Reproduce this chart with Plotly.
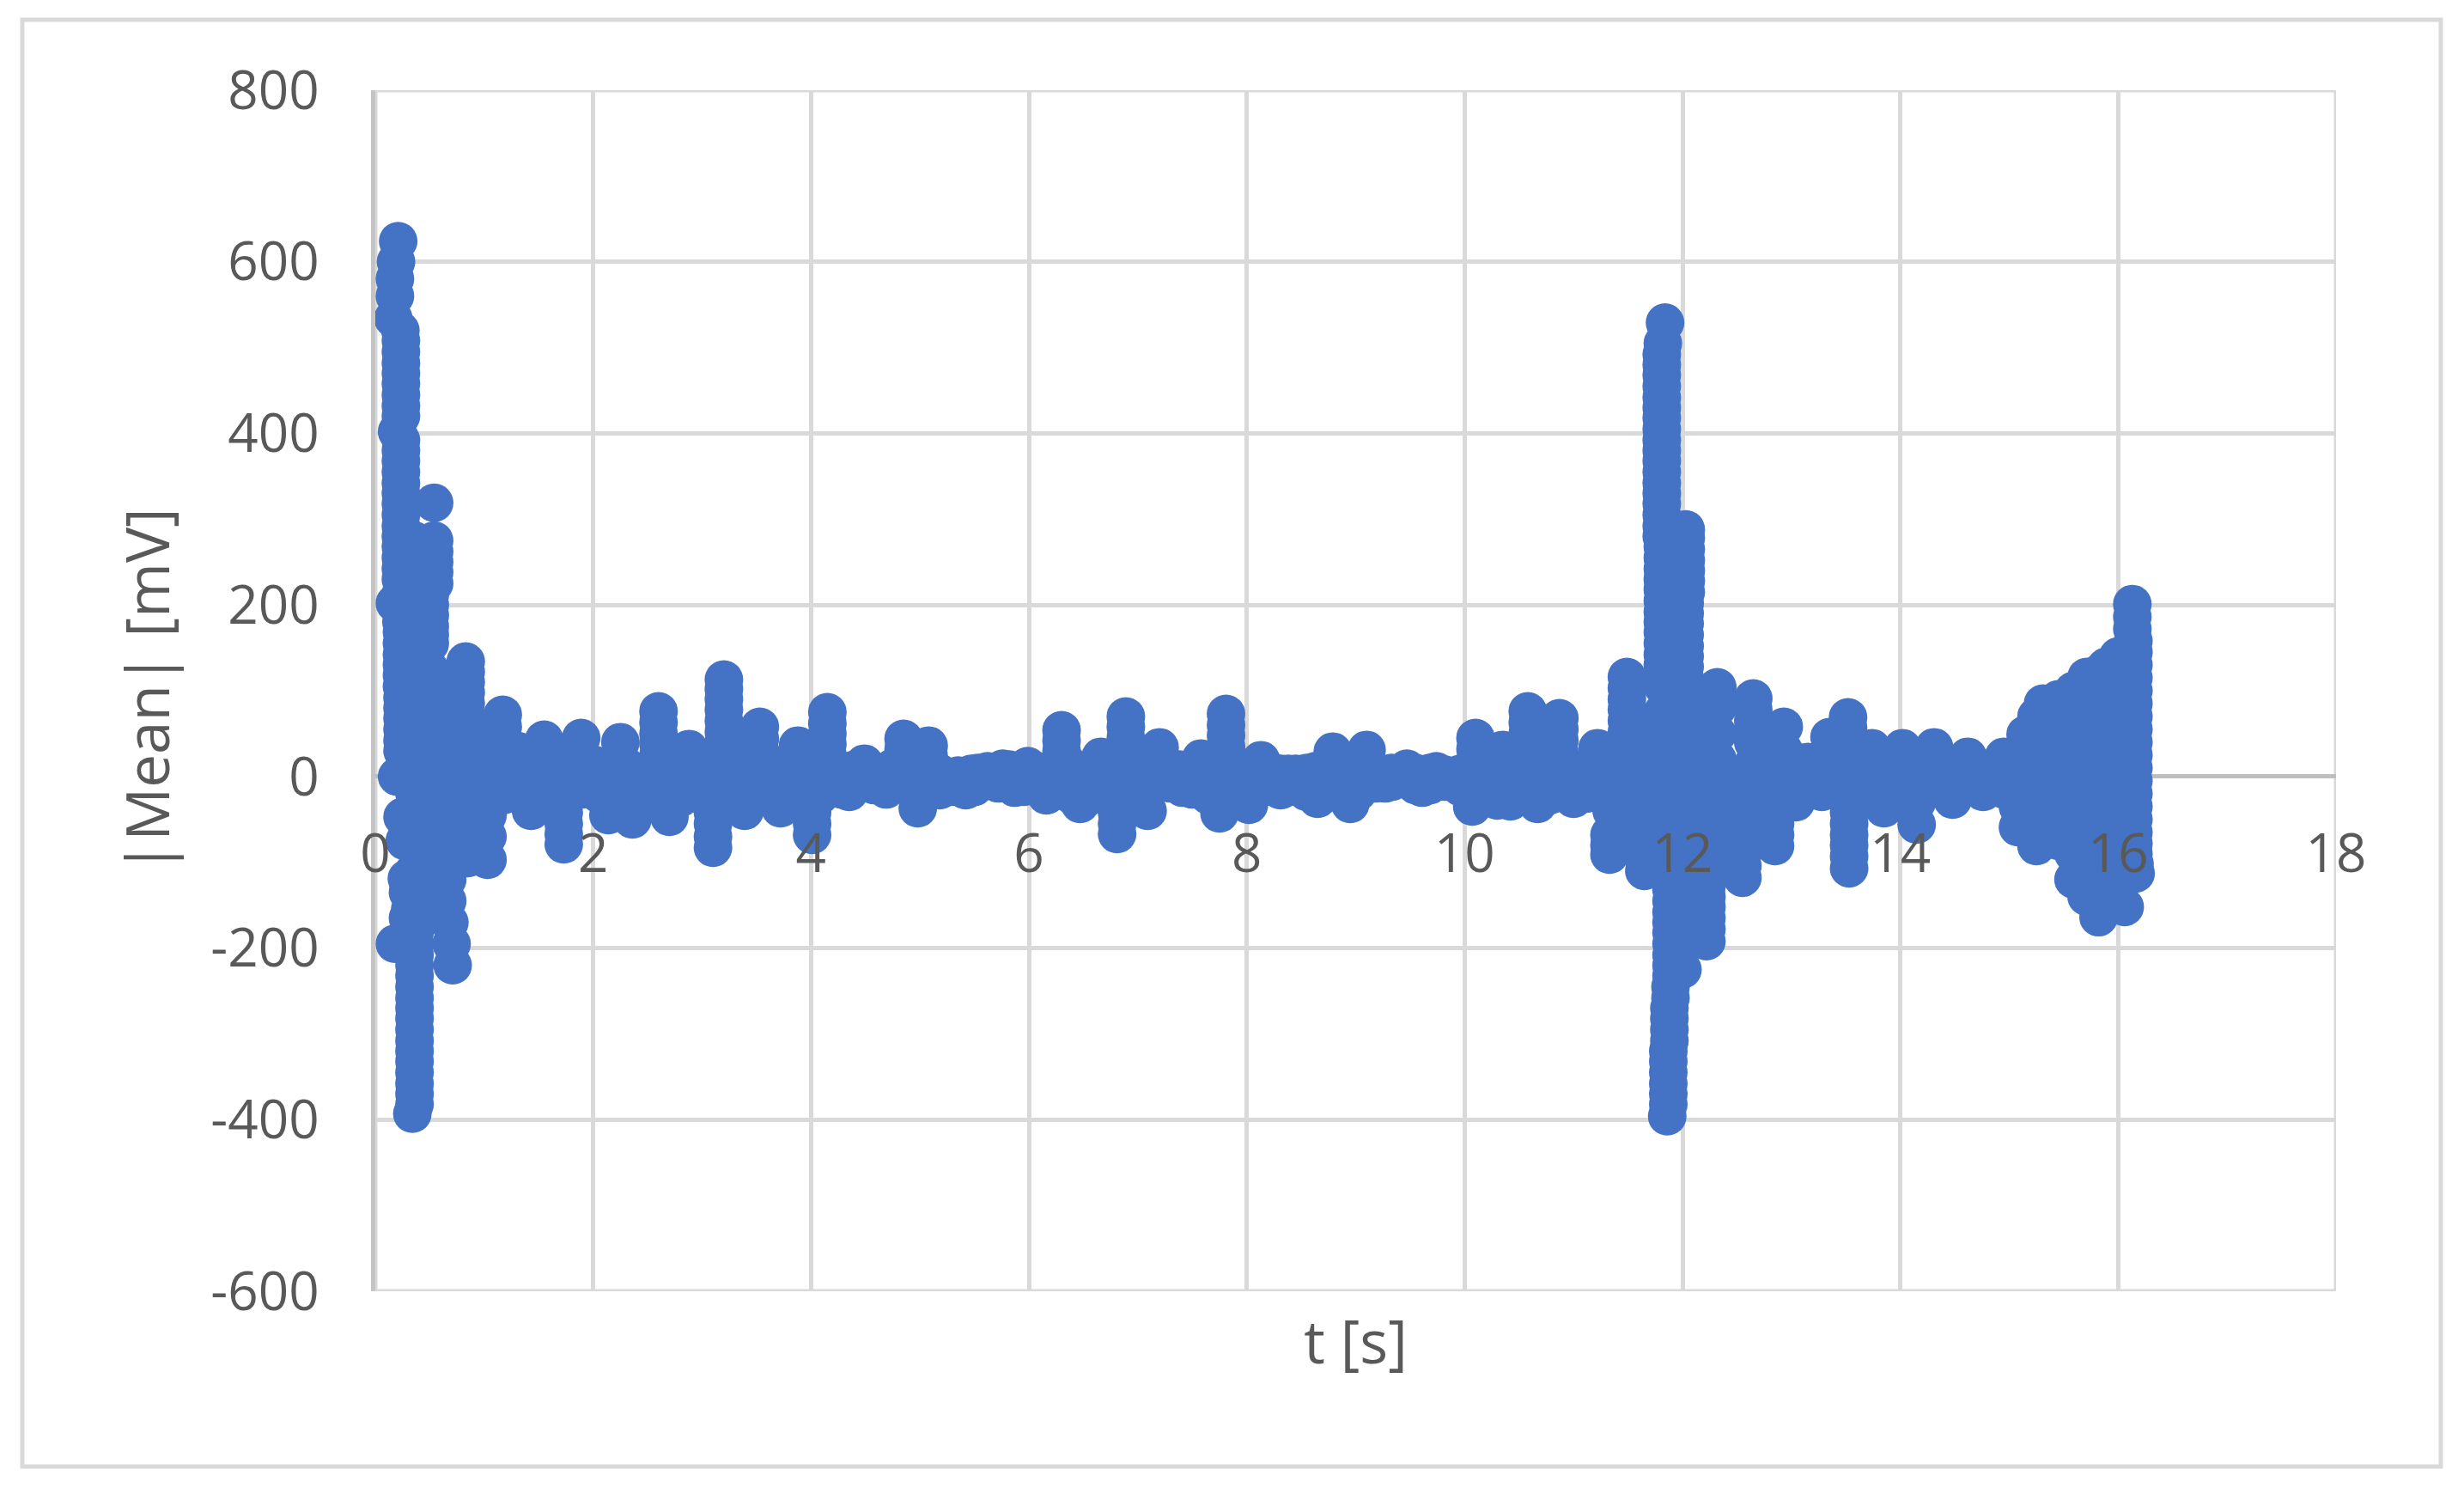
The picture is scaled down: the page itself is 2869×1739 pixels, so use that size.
import plotly.graph_objects as go

# (t [s], mean [mV]) pairs, one group per burst
onset = [
 (0.21,624),(0.19,600),(0.18,580),(0.18,560),(0.165,534),(0.23,520),(0.235,495),(0.235,470),(0.235,445),(0.235,420),
 (0.2,402),(0.235,380),(0.235,355),(0.235,330),(0.235,305),(0.235,280),(0.235,255),(0.235,230),(0.18,202),(0.24,180),
 (0.245,155),(0.245,130),(0.245,105),(0.25,80),(0.25,55),(0.25,30),(0.2,0),(0.25,-47),(0.27,-75),(0.29,-119),(0.32,-155),(0.18,-195),
 (0.34,-393),(0.36,-370),(0.36,-345),(0.36,-320),(0.36,-295),(0.36,-270),(0.36,-245),(0.36,-220),(0.36,-195),(0.36,-170),(0.36,-140),(0.36,-110),(0.36,-80),(0.36,-50),(0.36,-20),(0.36,10),
 (0.36,40),(0.36,70),(0.36,100),(0.36,130),(0.36,160),(0.36,190),(0.36,220),(0.36,250),(0.36,275),
 (0.54,319),(0.54,275),(0.54,250),(0.54,225),(0.5,200),(0.5,175),(0.5,155),(0.5,125),(0.5,95),(0.5,65),(0.5,35),(0.5,5),(0.5,-25),(0.5,-55),(0.5,-85),(0.5,-115),(0.5,-145),
 (0.67,110),(0.67,80),(0.67,50),(0.67,20),(0.67,-10),(0.67,-40),(0.67,-70),(0.67,-100),(0.66,-120),(0.66,-145),(0.68,-170),(0.7,-195),(0.71,-220),
 (0.83,134),(0.83,110),(0.83,85),(0.83,60),(0.83,35),(0.83,10),(0.83,-20),(0.83,-50),(0.83,-75),(0.85,-95),
 (1.03,-97),(1.03,-70),(1.03,-45),(1.03,-20),(1.0,0),(1.0,30),
 (1.17,72),(1.17,45),(1.17,20),(1.17,-5),(1.17,-22),
 (1.3,30),(1.3,0),(1.3,-20),(1.43,10),(1.43,-15),(1.43,-40),
 (1.55,43),(1.55,15),(1.55,-10),(1.73,-79),(1.73,-55),(1.73,-30),(1.73,-5),(1.73,20),(1.89,45),(1.89,15),(1.89,-15),
 (2.05,10),(2.05,-20),(2.14,-45),(2.14,-20),(2.25,40),(2.25,15),(2.25,-10),(2.36,-50),(2.36,-25),(2.36,0),
 (2.6,76),(2.6,50),(2.6,25),(2.6,0),(2.5,-15),(2.7,-47),(2.7,-22),(2.88,32),(2.88,10),(2.88,-15),
]
onset_fill = [
 (0.235,508),(0.235,482),(0.235,458),(0.235,432),(0.235,392),(0.235,368),(0.235,342),(0.235,318),(0.235,292),(0.235,268),(0.235,242),(0.24,215),(0.24,195),
 (0.245,168),(0.245,142),(0.245,118),(0.25,92),(0.25,68),(0.25,42),(0.3,-135),(0.3,-165),
 (0.36,-382),(0.36,-358),(0.36,-332),(0.36,-308),(0.36,-282),(0.36,-258),(0.36,-232),(0.36,-208),(0.36,-182),
 (0.54,262),(0.54,238),(0.5,212),(0.5,188),(0.5,165),(0.83,122),(0.83,98),(0.83,72),(0.83,48),(1.17,58),(1.17,32),(2.6,63),(2.6,38),(1.73,-67),(1.73,-42),
]
quiet = [
 (3.1,-83),(3.1,-55),(3.1,-30),(3.1,-5),(3.2,113),(3.2,90),(3.2,65),(3.2,40),(3.2,15),(3.39,-40),(3.39,-15),(3.39,10),
 (3.53,58),(3.53,30),(3.53,5),(3.72,-37),(3.72,-12),(3.72,8),(3.88,36),(3.88,10),(3.88,-15),
 (4.01,-68),(4.01,-42),(4.01,-18),(4.15,75),(4.15,50),(4.15,25),(4.15,0),(4.35,-18),(4.35,3),(4.49,15),(4.49,-5),
 (4.69,-15),(4.69,5),(4.85,44),(4.85,20),(4.85,-5),(4.98,-37),(4.98,-12),(5.08,36),(5.08,12),(5.08,-10),
 (5.25,-5),(5.35,1),(5.42,-16),(5.53,4),(5.66,-5),(5.76,9),(5.87,-13),(5.99,12),(6.08,-5),(6.16,-22),(6.3,54),(6.3,30),(6.3,10),(6.3,-8),
 (6.47,-32),(6.47,-8),(6.66,23),(6.66,0),(6.81,-67),(6.81,-42),(6.81,-18),(6.89,70),(6.89,45),(6.89,20),(6.89,0),
 (7.09,-40),(7.09,-15),(7.2,34),(7.2,10),(7.3,-8),(7.41,-13),(7.58,21),(7.58,0),(7.75,-43),(7.75,-18),
 (7.81,73),(7.81,48),(7.81,22),(7.81,0),(8.02,-33),(8.02,-8),(8.13,19),(8.13,-3),(8.31,-16),(8.31,3),(8.45,3),(8.63,6),
 (8.65,-26),(8.79,29),(8.79,5),(8.79,-10),(8.95,-32),(8.95,-8),(9.1,31),(9.1,5),(9.27,-8),(9.38,-3),(9.47,9),(9.61,-13),(9.74,6),(9.88,-3),
 (10.07,-35),(10.07,-10),(10.1,45),(10.1,20),(10.35,31),(10.35,5),(10.42,-29),(10.42,-8),(10.58,76),(10.58,50),(10.58,25),(10.58,0),
 (10.67,-32),(10.67,-8),(10.87,68),(10.87,42),(10.87,15),(10.87,-8),(11.0,-26),(11.0,-3),(11.22,33),(11.22,10),(11.22,-12),
]
quiet_fill = [
 (3.1,-70),(3.1,-42),(3.2,102),(3.2,78),(3.2,52),(3.2,28),(3.53,44),(4.01,-55),(4.01,-30),(4.15,62),(4.15,38),(4.85,32),(5.08,24),
 (6.3,42),(6.3,20),(6.81,-55),(6.81,-30),(6.89,58),(6.89,32),(7.81,60),(7.81,35),(7.75,-30),(10.58,63),(10.58,38),(10.87,55),(10.87,28),(10.1,32),
]
baseline = [
 (1.3,10),(1.45,-20),(1.65,12),(1.8,-15),(2.0,14),(2.1,-25),(2.3,12),(2.45,-28),(2.75,12),(2.8,-25),(3.0,10),(3.0,-22),(3.3,-15),(3.45,12),(3.62,15),(3.62,-20),
 (3.78,-20),(4.08,-22),(4.25,8),(4.28,-15),(4.4,8),(4.58,-10),(4.6,5),(4.75,10),(4.92,-12),(5.0,8),(5.18,4),(5.18,-16),(5.3,-12),(5.47,3),(5.5,-12),(5.62,6),
 (5.72,-8),(5.82,8),(5.95,-12),(6.08,6),(6.22,-18),(6.38,12),(6.4,-22),(6.55,8),(6.58,-22),(6.72,-18),(7.0,12),(7.0,-22),(7.13,18),(7.28,8),(7.38,8),(7.5,10),
 (7.5,-15),(7.65,-22),(7.92,12),(7.95,-22),(8.07,-18),(8.22,6),(8.24,-12),(8.38,3),(8.4,-12),(8.55,4),(8.55,-18),(8.72,-20),(8.88,8),(8.88,-20),(9.02,12),(9.02,-18),
 (9.18,6),(9.18,-8),(9.33,4),(9.33,-6),(9.55,4),(9.55,-10),(9.68,4),(9.68,-10),(9.82,2),(9.82,-6),(9.96,3),(9.96,-12),(10.2,12),(10.2,-22),(10.3,-28),(10.48,8),
 (10.52,-22),(10.75,12),(10.78,-22),(10.95,10),(11.1,6),(11.12,-20),(11.3,10),(11.3,-25),(11.42,10),
 (13.1,5),(13.2,-12),(13.42,12),(13.42,-15),(13.65,10),(13.65,-18),(13.92,10),(13.94,-18),(14.1,8),(14.22,10),(14.38,4),(14.4,-15),(14.55,8),(14.7,6),(14.85,4),(14.85,-12),(15.02,6),(15.02,-15),
]
second = [
 (11.33,-91),(11.33,-68),(11.35,-40),(11.38,-15),(11.49,116),(11.49,90),(11.49,65),(11.49,40),(11.49,15),(11.5,-10),(11.5,-35),(11.55,-60),
 (11.65,-110),(11.65,-85),(11.65,-60),(11.65,-30),(11.65,0),(11.65,30),(11.65,60),
 (11.84,529),(11.82,505),(11.81,480),(11.81,455),(11.81,430),(11.81,405),(11.81,380),(11.81,355),(11.81,330),(11.81,305),(11.81,280),
 (11.82,255),(11.82,230),(11.82,205),(11.82,180),(11.82,155),(11.82,130),(11.82,105),(11.82,75),(11.82,45),(11.82,15),(11.82,-15),(11.82,-45),(11.82,-75),(11.82,-105),
 (11.86,-396),(11.87,-370),(11.87,-345),(11.87,-320),(11.88,-295),(11.88,-270),(11.89,-245),(11.9,-220),(11.9,-195),(11.9,-170),(11.9,-145),(11.9,-120),
 (12.03,288),(12.03,265),(12.03,240),(12.03,215),(12.02,190),(12.02,165),(12.02,140),(12.02,115),(12.02,85),(12.02,55),(12.02,25),(12.02,-5),(12.02,-35),(12.02,-65),(12.02,-95),(12.02,-125),(12.02,-155),(12.0,-190),(12.0,-225),
 (12.22,-192),(12.22,-165),(12.22,-140),(12.22,-115),(12.22,-85),(12.22,-55),(12.22,-25),(12.22,5),(12.22,35),(12.22,65),
 (12.32,104),(12.32,80),(12.32,50),(12.32,20),(12.4,-10),(12.4,-40),(12.4,-70),
 (12.55,-118),(12.55,-90),(12.55,-60),(12.55,-30),(12.55,0),(12.65,91),(12.65,65),(12.65,40),(12.65,15),(12.7,-15),(12.7,-45),
 (12.85,-81),(12.85,-55),(12.85,-30),(12.85,-5),(12.93,58),(12.93,30),(12.93,5),(13.04,-30),(13.04,-5),(13.15,17),(13.15,-3),(13.28,-18),(13.28,3),
 (13.35,46),(13.35,20),(13.53,-107),(13.53,-80),(13.53,-55),(13.53,-30),(13.53,-5),(13.52,69),(13.52,45),(13.52,20),
 (13.74,33),(13.74,10),(13.74,-10),(13.85,-37),(13.85,-12),(14.02,33),(14.02,10),(14.02,-10),(14.15,-56),(14.15,-30),(14.15,-5),
 (14.31,34),(14.31,10),(14.31,-8),(14.48,-27),(14.48,-5),(14.62,23),(14.62,0),(14.76,-18),(14.76,0),(14.95,23),(14.95,0),(14.95,-15),
]
second_fill = [
 (11.49,103),(11.49,78),(11.49,52),(11.49,28),(11.33,-80),(11.65,-98),(11.65,-72),
 (11.81,492),(11.81,468),(11.81,442),(11.81,418),(11.81,392),(11.81,368),(11.81,342),(11.81,318),(11.81,292),(11.82,268),(11.82,242),(11.82,218),(11.82,192),(11.82,168),(11.82,142),(11.82,118),
 (11.87,-382),(11.87,-358),(11.87,-332),(11.88,-308),(11.88,-282),(11.89,-258),(11.9,-232),(11.9,-208),(11.9,-182),(11.9,-158),(11.9,-132),
 (12.03,278),(12.03,252),(12.03,228),(12.02,202),(12.02,178),(12.02,152),(12.02,128),(12.22,-178),(12.22,-152),(12.22,-128),(12.22,-100),
 (12.32,92),(12.55,-104),(12.65,78),(12.65,52),(12.85,-68),(12.85,-42),(13.52,57),(13.52,32),(13.53,-93),(13.53,-68),(13.53,-42),
]
ending = [
 (15.08,-59),(15.08,-35),(15.08,-10),(15.08,15),(15.15,49),(15.15,20),(15.15,-10),(15.15,-40),
 (15.25,-81),(15.25,-55),(15.25,-30),(15.25,-5),(15.25,20),(15.25,45),(15.25,70),
 (15.31,85),(15.31,60),(15.31,35),(15.31,10),(15.31,-20),(15.31,-50),(15.31,-75),
 (15.45,90),(15.45,65),(15.45,40),(15.45,15),(15.45,-15),(15.45,-45),(15.45,-75),
 (15.59,100),(15.59,75),(15.59,50),(15.59,25),(15.59,0),(15.59,-30),(15.59,-60),(15.59,-90),(15.59,-120),
 (15.71,116),(15.71,90),(15.71,60),(15.71,30),(15.71,0),(15.71,-30),(15.71,-60),(15.71,-90),(15.71,-120),(15.71,-140),
 (15.82,120),(15.82,90),(15.82,60),(15.82,30),(15.82,0),(15.82,-30),(15.82,-60),(15.82,-90),(15.82,-120),(15.82,-145),(15.82,-164),
 (15.89,128),(15.89,100),(15.89,70),(15.89,40),(15.89,10),(15.95,-20),(15.95,-50),(15.95,-80),(15.95,-110),(15.95,-140),
 (16.0,140),(16.0,110),(16.0,80),(16.0,50),(16.0,20),(16.0,-10),(16.0,-40),(16.0,-70),(16.0,-100),(16.0,-130),(16.06,-152),
 (16.13,201),(16.13,172),(16.14,145),(16.14,115),(16.14,85),(16.14,55),(16.14,25),(16.14,-5),(16.14,-35),(16.14,-65),(16.14,-90),(16.16,-113),
 (16.13,186),(16.14,158),(16.14,130),(16.14,100),(16.14,70),(16.14,40),(16.14,10),(16.14,-20),(16.14,-50),(16.14,-78),(16.15,-102),
]

x_ticks = [0, 2, 4, 6, 8, 10, 12, 14, 16, 18]
y_ticks = [-600, -400, -200, 0, 200, 400, 600, 800]
y_tick_text = ["-600", "-400", "-200", "0", "200", "400", "600", "800"]

W, H = 2869, 1739
L, R, T, B = 437, 2720, 105, 1503
FONT = "Open Sans"
GREY = "#595959"

points = onset + onset_fill + quiet + quiet_fill + baseline + second + second_fill + ending
t_values = [p[0] for p in points]
mean_values = [p[1] for p in points]

fig = go.Figure(go.Scatter(
    x=t_values, y=mean_values, mode="markers", cliponaxis=False,
    marker=dict(color="#4472C4", size=45, line=dict(width=0)),
))

fig.update_layout(
    width=W, height=H, autosize=False, showlegend=False,
    paper_bgcolor="white", plot_bgcolor="white",
    margin=dict(l=L, r=W - R, t=T, b=H - B, pad=0),
    font=dict(family=FONT, color=GREY, size=62),
    shapes=[
        dict(type="rect", xref="paper", yref="paper",
             x0=(26 - L) / (R - L), x1=(2842 - L) / (R - L),
             y0=(B - 1707) / (B - T), y1=(B - 23) / (B - T),
             line=dict(color="#d9d9d9", width=5), fillcolor="rgba(0,0,0,0)", layer="below"),
        dict(type="rect", xref="x", yref="y", x0=0, x1=18, y0=-600, y1=800,
             line=dict(color="#d9d9d9", width=5), fillcolor="rgba(0,0,0,0)", layer="below"),
    ],
)
fig.update_xaxes(
    range=[0, 18], tickmode="array", tickvals=x_ticks, ticktext=[str(v) for v in x_ticks],
    anchor="free", position=600 / 1400, showline=False,
    showgrid=True, gridcolor="#d9d9d9", gridwidth=5, zeroline=False, ticks="", ticklabelstandoff=48,
    tickfont=dict(family=FONT, size=62, color=GREY),
    title=dict(text="t [s]", font=dict(family=FONT, size=69, color=GREY), standoff=506),
)
fig.update_yaxes(
    range=[-600, 800], tickmode="array", tickvals=y_ticks, ticktext=y_tick_text,
    showline=True, linecolor="#c4c4c4", linewidth=5,
    zeroline=True, zerolinecolor="#bfbfbf", zerolinewidth=5,
    showgrid=True, gridcolor="#d9d9d9", gridwidth=5, ticks="", ticklabelstandoff=48,
    tickfont=dict(family=FONT, size=62, color=GREY),
    title=dict(text="|Mean| [mV]", font=dict(family=FONT, size=69, color=GREY), standoff=27),
)

fig.write_html("out.html", config=dict(displayModeBar=False),
               post_script="document.body.style.margin='0';document.documentElement.style.overflow='hidden';")
